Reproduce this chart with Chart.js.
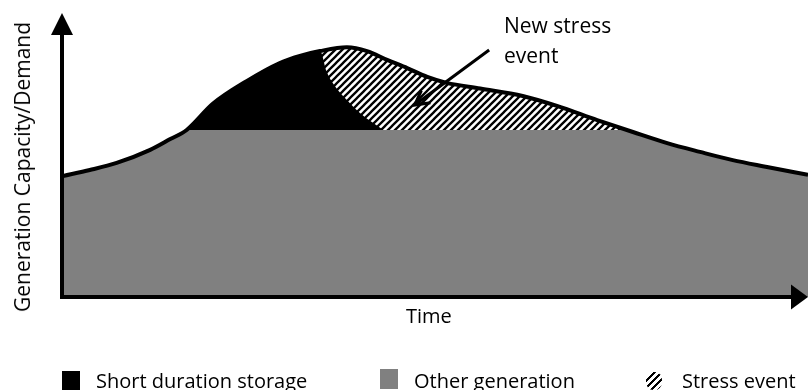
<!DOCTYPE html>
<html>
<head>
<meta charset="utf-8">
<script src="https://cdn.jsdelivr.net/npm/chart.js@4/dist/chart.umd.min.js"></script>
<style>
  html, body { margin: 0; padding: 0; background: #fff; overflow: hidden; }
  #wrap { position: relative; width: 808px; height: 390px; overflow: hidden; font-family: 'Open Sans', sans-serif; color: #000; }
  #chart { position: absolute; left: 0; top: 0; }
  .lbl { position: absolute; white-space: nowrap; line-height: normal; }
  .box { position: absolute; width: 18px; height: 20px; }
</style>
</head>
<body>
<div id="wrap">
  <canvas id="chart" width="808" height="390"></canvas>
  <div class="lbl" id="yTitle" style="left:22px; top:167px; font-size:21px; transform: translate(-50%, -50%) rotate(-90deg);">Generation Capacity/Demand</div>
  <div class="lbl" style="left:406px; top:302px; font-size:20px;">Time</div>
  <div class="lbl" style="left:504px; top:10px; font-size:21px; line-height:30px;">New stress<br>event</div>

  <div class="box" style="left:62px; top:371px; background:#000;"></div>
  <div class="lbl" style="left:96px; top:367px; font-size:20px;">Short duration storage</div>
  <div class="box" style="left:380px; top:369px; background:#808080;"></div>
  <div class="lbl" style="left:414px; top:367px; font-size:20px;">Other generation</div>
  <div class="box" style="left:646px; top:372px; width:16px; height:18px; border-radius:45%;
       background: repeating-linear-gradient(135deg, #000 0 2.4px, #fff 2.4px 5px);"></div>
  <div class="lbl" style="left:682px; top:367px; font-size:20px;">Stress event</div>
</div>
<script>
// Schematische grafiek: vraag vs. opwekcapaciteit over de tijd.
// x = tijd (0..100), y = capaciteit/vraag (0..100).

// ── Data ──────────────────────────────────────────────────────────────────
const timeAxis = [0, 3.6, 7.2, 11.7, 14.4, 16.6, 20.1, 24.7, 29.1, 31.8, 34.5, 38.1, 40.8,
                  43.5, 46.2, 48.9, 51.5, 56.0, 61.7, 66.3, 71.7, 76.5, 81.1, 85.5, 89.9, 94.5, 100];
const demand   = [42.6, 44.7, 47.2, 51.8, 55.6, 58.8, 68.0, 76.1, 82.4, 84.9, 86.6, 87.9, 86.6,
                  83.5, 80.6, 77.5, 75.4, 73.4, 70.8, 67.3, 62.3, 58.1, 54.2, 51.1, 48.2, 45.8, 43.0];

// niveau van "other generation" (vlak plateau)
const otherGenLevel = 58.8;

// bovenrand van short duration storage (vraagcurve, daarna grens met stress event)
const storageTime  = [16.6, 20.1, 24.7, 29.1, 31.8, 34.5, 35.4, 36.7, 38.1, 39.9, 43.0];
const storageLevel = [58.8, 68.0, 76.1, 82.4, 84.9, 86.6, 79.3, 73.5, 69.4, 64.7, 58.8];

// bovenrand van het nieuwe stress event
const stressTime  = [34.5, 38.1, 40.8, 43.5, 46.2, 48.9, 51.5, 56.0, 61.7, 66.3, 71.7, 75.5];
const stressLevel = [86.6, 87.9, 86.6, 83.5, 80.6, 77.5, 75.4, 73.4, 70.8, 67.3, 62.3, 58.8];

// annotatiepijl "New stress event" (staart -> punt)
const arrowFrom = [57.2, 87.0];
const arrowTo   = [47.2, 67.6];

const GRAY = '#808080';

// ── Arcering ──────────────────────────────────────────────────────────────
function hatchPattern() {
    const size = 7;
    const tile = document.createElement('canvas');
    tile.width = size; tile.height = size;
    const c = tile.getContext('2d');
    c.fillStyle = '#fff';
    c.fillRect(0, 0, size, size);
    c.strokeStyle = '#000';
    c.lineWidth = 2.3;
    c.beginPath();
    c.moveTo(-1, size + 1); c.lineTo(size + 1, -1);
    c.moveTo(-1, 1); c.lineTo(1, -1);
    c.moveTo(size - 1, size + 1); c.lineTo(size + 1, size - 1);
    c.stroke();
    return c.createPattern(tile, 'repeat');
}

const pts = (xs, ys) => xs.map((x, i) => ({ x, y: ys[i] }));

// ── Assen met pijlen + annotatie ─────────────────────────────────────────
const axesPlugin = {
    id: 'axesArrows',
    afterDatasetsDraw(chart) {
        const { ctx, chartArea: a, scales: { x, y } } = chart;
        ctx.save();
        ctx.fillStyle = '#000';
        ctx.strokeStyle = '#000';
        ctx.lineWidth = 4;
        ctx.lineCap = 'butt';

        // y-as
        ctx.beginPath();
        ctx.moveTo(a.left - 1, a.bottom + 2);
        ctx.lineTo(a.left - 1, a.top + 20);
        ctx.stroke();
        ctx.beginPath();
        ctx.moveTo(a.left - 1, a.top);
        ctx.lineTo(a.left - 12, a.top + 22);
        ctx.lineTo(a.left + 10, a.top + 22);
        ctx.closePath();
        ctx.fill();

        // x-as
        ctx.beginPath();
        ctx.moveTo(a.left - 3, a.bottom);
        ctx.lineTo(a.right - 15, a.bottom);
        ctx.stroke();
        ctx.beginPath();
        ctx.moveTo(a.right, a.bottom);
        ctx.lineTo(a.right - 17, a.bottom - 12.5);
        ctx.lineTo(a.right - 17, a.bottom + 12.5);
        ctx.closePath();
        ctx.fill();

        // annotatiepijl
        const x1 = x.getPixelForValue(arrowFrom[0]), y1 = y.getPixelForValue(arrowFrom[1]);
        const x2 = x.getPixelForValue(arrowTo[0]),   y2 = y.getPixelForValue(arrowTo[1]);
        ctx.lineWidth = 3;
        ctx.beginPath();
        ctx.moveTo(x1, y1);
        ctx.lineTo(x2, y2);
        const back = Math.atan2(y1 - y2, x1 - x2);
        const len = 16, spread = 0.5;
        ctx.moveTo(x2 + len * Math.cos(back - spread), y2 + len * Math.sin(back - spread));
        ctx.lineTo(x2, y2);
        ctx.lineTo(x2 + len * Math.cos(back + spread), y2 + len * Math.sin(back + spread));
        ctx.stroke();
        ctx.restore();
    },
};

// ── Chart ─────────────────────────────────────────────────────────────────
const ctx = document.getElementById('chart').getContext('2d');
new Chart(ctx, {
    type: 'line',
    data: {
        datasets: [
            {
                label: 'Demand',
                data: pts(timeAxis, demand),
                borderColor: '#000',
                borderWidth: 4,
                fill: false,
                order: 0,
            },
            {
                label: 'Short duration storage',
                data: pts(storageTime, storageLevel),
                borderWidth: 0,
                borderColor: 'transparent',
                backgroundColor: '#000',
                fill: { value: otherGenLevel },
                order: 1,
            },
            {
                label: 'Stress event',
                data: pts(stressTime, stressLevel),
                borderWidth: 0,
                borderColor: 'transparent',
                backgroundColor: hatchPattern(),
                fill: { value: otherGenLevel },
                order: 2,
            },
            {
                label: 'Other generation',
                data: pts(timeAxis, demand),
                borderWidth: 0,
                borderColor: 'transparent',
                backgroundColor: GRAY,
                fill: 'origin',
                order: 3,
            },
        ],
    },
    options: {
        responsive: false,
        animation: false,
        events: [],
        layout: { padding: { left: 63, top: 13, right: 0, bottom: 93 } },
        elements: {
            point: { radius: 0 },
            line: { cubicInterpolationMode: 'monotone' },
        },
        plugins: {
            legend: { display: false },
            tooltip: { enabled: false },
        },
        scales: {
            x: { type: 'linear', min: 0, max: 100, display: false },
            y: { type: 'linear', min: 0, max: 100, display: false },
        },
    },
    plugins: [axesPlugin],
});
</script>
</body>
</html>
